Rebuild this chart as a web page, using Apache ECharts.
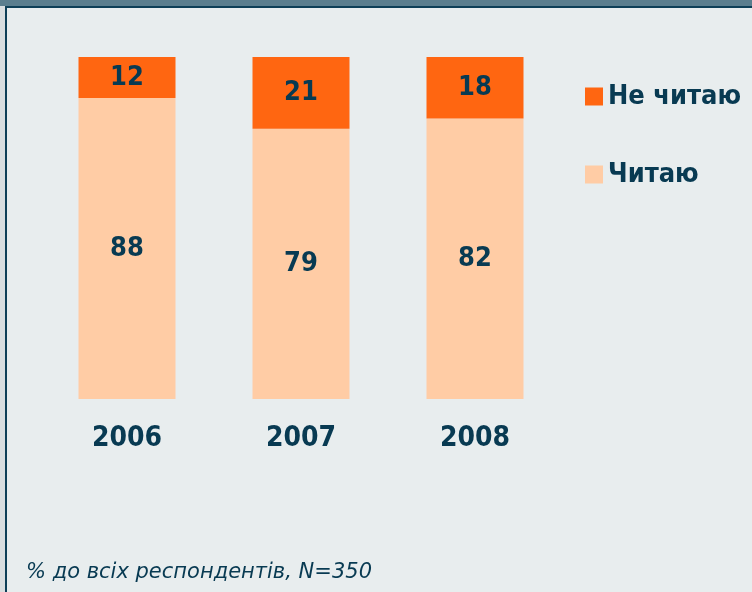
<!DOCTYPE html>
<html>
<head>
<meta charset="utf-8">
<script src="https://cdn.jsdelivr.net/npm/echarts@6/dist/echarts.min.js"></script>
<style>
  html, body { margin: 0; padding: 0; background: #E8EDEE; }
  #chart { width: 752px; height: 592px; }
</style>
</head>
<body>
<div id="chart"></div>
<script>
// дані
const years = ['2006', '2007', '2008']
const readValues = [88, 79, 82]
const notReadValues = [12, 21, 18]
const legendNames = ['Не читаю', 'Читаю']
const note = '% до всіх респондентів, N=350'

const textColor = '#083A52'
const font = '"DejaVu Sans Condensed", "DejaVu Sans"'

const myChart = echarts.init(document.getElementById('chart'))

const labelStyle = {
  show: true,
  position: 'inside',
  color: textColor,
  fontFamily: font,
  fontWeight: 'bold',
  fontSize: 27
}

const option = {
  backgroundColor: '#E8EDEE',
  animation: false,
  textStyle: { fontFamily: font },
  grid: {
    left: 40,
    right: 190,
    top: 57,
    bottom: 193
  },
  legend: {
    data: legendNames,
    orient: 'vertical',
    left: 580,
    top: 78,
    itemWidth: 18,
    itemHeight: 18,
    itemGap: 51,
    icon: 'rect',
    selectedMode: false,
    textStyle: {
      color: textColor,
      fontFamily: font,
      fontWeight: 'bold',
      fontSize: 27,
      lineHeight: 20
    }
  },
  xAxis: {
    type: 'category',
    data: years,
    axisLine: { show: false },
    axisTick: { show: false },
    axisLabel: {
      color: textColor,
      fontFamily: font,
      fontWeight: 'bold',
      fontSize: 28,
      margin: 26
    }
  },
  yAxis: {
    type: 'value',
    min: 0,
    max: 100,
    show: false
  },
  series: [
    {
      name: 'Читаю',
      type: 'bar',
      stack: 'total',
      barWidth: 97,
      data: readValues,
      itemStyle: { color: '#FFCCA5' },
      label: labelStyle
    },
    {
      name: 'Не читаю',
      type: 'bar',
      stack: 'total',
      barWidth: 97,
      data: notReadValues,
      itemStyle: { color: '#FF6611' },
      label: labelStyle
    }
  ],
  graphic: [
    // рамка
    { type: 'rect', left: 0, top: 0, shape: { width: 752, height: 6 }, style: { fill: '#5B7E8E' } },
    { type: 'rect', left: 0, top: 6, shape: { width: 5, height: 586 }, style: { fill: '#D9DEE0' } },
    { type: 'rect', left: 5, top: 6, shape: { width: 747, height: 2 }, style: { fill: '#0E3F57' } },
    { type: 'rect', left: 5, top: 6, shape: { width: 2, height: 586 }, style: { fill: '#0E3F57' } },
    {
      type: 'text',
      left: 26,
      top: 562,
      style: {
        text: note,
        fill: textColor,
        font: 'italic 21px "DejaVu Sans"'
      }
    }
  ]
}

myChart.setOption(option)
</script>
</body>
</html>
